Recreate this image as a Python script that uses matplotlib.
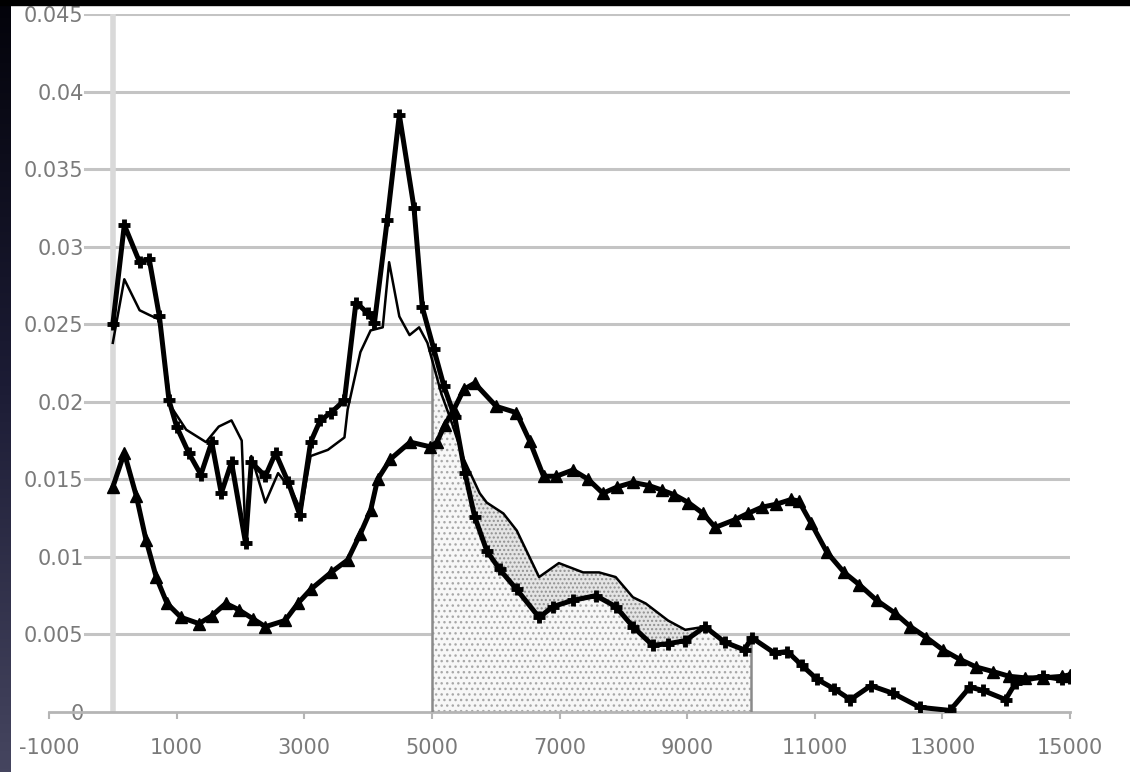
import numpy as np
import matplotlib
matplotlib.use("Agg")
from matplotlib import pyplot as plt
from matplotlib.patches import Rectangle

# thin line, no markers
a_x = [0, 180, 420, 570, 730, 910, 1150, 1460, 1660, 1860,
       2020, 2080, 2170, 2390, 2590, 2800, 2950, 3100, 3370, 3630,
       3680, 3880, 4040, 4230, 4330, 4490, 4650, 4800, 4930, 5150,
       5300, 5500, 5750, 5860, 6120, 6330, 6680, 6990, 7370, 7620,
       7880, 8150, 8350, 8700, 8970, 9280]
a_y = [0.0238, 0.0279, 0.0259, 0.0256, 0.0253, 0.0197, 0.0182, 0.0174, 0.0184, 0.0188,
       0.0175, 0.0112, 0.0165, 0.0135, 0.0154, 0.0143, 0.0130, 0.0165, 0.0169, 0.0177,
       0.0195, 0.0232, 0.0246, 0.0248, 0.0290, 0.0255, 0.0243, 0.0248, 0.0238, 0.0205,
       0.0188, 0.0163, 0.0141, 0.0135, 0.0128, 0.0117, 0.0087, 0.0096, 0.0090, 0.0090,
       0.0087, 0.0074, 0.0070, 0.0059, 0.0053, 0.0055]

# thick line with cross markers
b_x = [0, 180, 420, 570, 730, 880, 1000, 1190, 1380, 1550,
       1700, 1860, 2080, 2170, 2390, 2550, 2750, 2930, 3100, 3250,
       3420, 3630, 3810, 4000, 4100, 4300, 4490, 4720, 4850, 5030,
       5190, 5360, 5520, 5670, 5860, 6060, 6330, 6680, 6900, 7210,
       7570, 7880, 8150, 8460, 8700, 8970, 9280, 9590, 9900, 10010,
       10370, 10570, 10800, 11040, 11300, 11560, 11880, 12230, 12650, 13120,
       13430, 13630, 13990, 14150, 14570, 14880, 15000]
b_y = [0.0250, 0.0314, 0.0290, 0.0292, 0.0255, 0.0201, 0.0184, 0.0167, 0.0153, 0.0174,
       0.0141, 0.0161, 0.0109, 0.0161, 0.0152, 0.0167, 0.0148, 0.0127, 0.0174, 0.0188,
       0.0193, 0.0201, 0.0264, 0.0257, 0.0251, 0.0317, 0.0385, 0.0325, 0.0261, 0.0234,
       0.0210, 0.0190, 0.0154, 0.0126, 0.0104, 0.0092, 0.0079, 0.0061, 0.0068, 0.0072,
       0.0075, 0.0068, 0.0055, 0.0043, 0.0044, 0.0046, 0.0055, 0.0045, 0.0040, 0.0048,
       0.0038, 0.0039, 0.0030, 0.0021, 0.0015, 0.0008, 0.0017, 0.0012, 0.0003, 0.0001,
       0.0016, 0.0014, 0.0008, 0.0019, 0.0023, 0.0021, 0.0022]

# thick line with triangles
c_x = [0, 180, 370, 520, 680, 850, 1070, 1350, 1550, 1770,
       1970, 2200, 2390, 2700, 2900, 3100, 3420, 3680, 3880, 4040,
       4150, 4350, 4660, 4970, 5080, 5200, 5345, 5500, 5670, 6010,
       6325, 6530, 6750, 6950, 7210, 7450, 7680, 7900, 8150, 8400,
       8610, 8800, 9020, 9250, 9440, 9750, 9950, 10170, 10400, 10630,
       10750, 10940, 11190, 11460, 11700, 11970, 12250, 12500, 12750, 13010,
       13270, 13530, 13800, 14050, 14300, 14570, 14880, 15000]
c_y = [0.0145, 0.0167, 0.0139, 0.0111, 0.0087, 0.0070, 0.0061, 0.0057, 0.0062, 0.0070,
       0.0066, 0.0060, 0.0055, 0.0059, 0.0070, 0.0079, 0.0090, 0.0098, 0.0115, 0.0130,
       0.0150, 0.0163, 0.0174, 0.0171, 0.0174, 0.0185, 0.0195, 0.0208, 0.0212, 0.0197,
       0.0193, 0.0175, 0.0152, 0.0152, 0.0156, 0.0150, 0.0141, 0.0145, 0.0148, 0.0146,
       0.0143, 0.0140, 0.0135, 0.0128, 0.0119, 0.0124, 0.0128, 0.0132, 0.0134, 0.0137,
       0.0136, 0.0122, 0.0103, 0.0090, 0.0082, 0.0072, 0.0064, 0.0055, 0.0048, 0.0040,
       0.0034, 0.0029, 0.0026, 0.0023, 0.0022, 0.0022, 0.0023, 0.0024]

shade_from, shade_to = 5000, 10000
x_ticks = [-1000, 1000, 3000, 5000, 7000, 9000, 11000, 13000, 15000]
y_ticks = [0, 0.005, 0.01, 0.015, 0.02, 0.025, 0.03, 0.035, 0.04, 0.045]
y_labels = ["0", "0.005", "0.01", "0.015", "0.02", "0.025", "0.03", "0.035", "0.04", "0.045"]

W, H = 1130, 772
fig = plt.figure(figsize=(W / 100, H / 100), dpi=100)
fig.patch.set_facecolor("white")

ax = fig.add_axes([49 / W, 60 / H, 1021 / W, 698 / H])
ax.set_xlim(-1000, 15000)
ax.set_ylim(0, 0.045)
for s in ["top", "right", "left"]:
    ax.spines[s].set_visible(False)
ax.spines["bottom"].set_color("#b5b5b5")
ax.spines["bottom"].set_linewidth(2)

# grid lines, starting right of the tick labels
for yv in y_ticks[1:]:
    ax.axhline(yv, xmin=0.035, color="#c4c4c4", lw=2.2, zorder=1)
ax.axvline(0, color="#d9d9d9", lw=4, zorder=1)

# shaded area 5000..10000
xs = sorted(set([shade_from, shade_to] +
                [v for v in a_x + b_x if shade_from < v < shade_to]))
xs = np.array(xs, dtype=float)
bi = np.interp(xs, b_x, b_y)
ai = np.interp(xs, a_x, a_y)
upper = np.where(xs <= a_x[-1], np.maximum(ai, bi), bi)
ax.fill_between(xs, 0, bi, facecolor="#f7f7f7", edgecolor="#a8a8a8",
                hatch="...", linewidth=0, zorder=2)
ax.fill_between(xs, bi, upper, facecolor="#e4e4e4", edgecolor="#909090",
                hatch="....", linewidth=0, zorder=2)
ax.vlines([shade_from, shade_to], 0, [upper[0], upper[-1]],
          color="#8a8a8a", lw=1.8, zorder=3)

ax.plot(a_x, a_y, color="black", lw=1.8, zorder=4)
ax.plot(b_x, b_y, color="black", lw=3.6, marker="+", ms=9, mew=3.5, zorder=5)
ax.plot(c_x, c_y, color="black", lw=3.6, marker="^", ms=8, zorder=5)

ax.set_xticks(x_ticks)
ax.set_xticklabels([str(v) for v in x_ticks])
ax.set_yticks(y_ticks)
ax.set_yticklabels(y_labels)
ax.tick_params(axis="x", colors="#b5b5b5", labelcolor="#7a7a7a", length=5,
               width=1.5, direction="out", pad=14, labelsize=15)
ax.tick_params(axis="y", length=0, pad=-25, labelcolor="#7a7a7a", labelsize=15)
for lbl in ax.get_yticklabels():
    lbl.set_zorder(6)

# dark frame bits at left and top
strip = fig.add_axes([0, 0, 11 / W, 1])
grad = np.linspace(0, 1, 256).reshape(-1, 1)
strip.imshow(grad, aspect="auto", cmap=matplotlib.colors.LinearSegmentedColormap.from_list(
    "edge", ["#03030a", "#1c1c35", "#45455f"]), origin="upper")
strip.set_axis_off()
fig.add_artist(Rectangle((0, 1 - 5 / H), 1, 5 / H, transform=fig.transFigure,
                         color="black", zorder=10))

fig.savefig("out.png", dpi=100)
